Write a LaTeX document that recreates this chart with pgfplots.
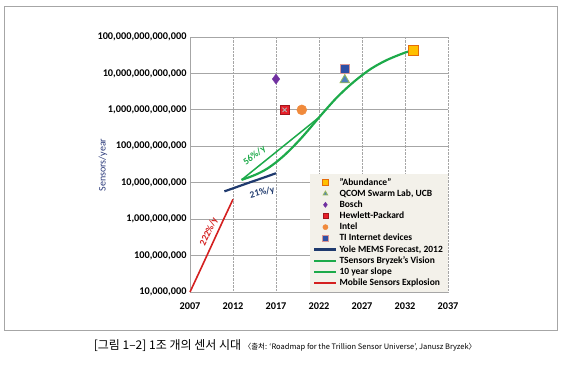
\documentclass[border=0pt]{standalone}
\usepackage{pgfplots}
\pgfplotsset{compat=1.18}
\usepackage{fontspec}
\setmainfont{Carlito}
\newfontfamily\kr{Noto Sans CJK KR}
\definecolor{abundF}{HTML}{FFC000}
\definecolor{abundD}{HTML}{E46C0A}
\definecolor{qcomF}{HTML}{4F81BD}
\definecolor{qcomD}{HTML}{9BBB59}
\definecolor{boschC}{HTML}{7030A0}
\definecolor{hpF}{HTML}{E8202A}
\definecolor{intelC}{HTML}{F08A3C}
\definecolor{tiF}{HTML}{2E4FA5}
\definecolor{tiD}{HTML}{D99694}
\definecolor{yoleC}{HTML}{1F3A6E}
\definecolor{greenC}{HTML}{1DAA4A}
\definecolor{redC}{HTML}{D42020}
\definecolor{legbg}{HTML}{F3F1EA}
\definecolor{gridC}{HTML}{A6A6A6}
\definecolor{labC}{HTML}{2B3A7A}
\begin{document}
\begin{tikzpicture}
\path[use as bounding box] (-190pt,-73pt) rectangle (379pt,292pt);
\begin{axis}[
  scale only axis, width=258pt, height=255pt,
  at={(0,0)}, anchor=south west,
  xmin=2007, xmax=2037, ymode=log, ymin=1e7, ymax=1e14,
  xtick={2007,2012,2017,2022,2027,2032,2037},
  xticklabels={2007,2012,2017,2022,2027,2032,2037},
  ytick={1e7,1e8,1e9,1e10,1e11,1e12,1e13,1e14},
  yticklabels={{10,000,000},{100,000,000},{1,000,000,000},{10,000,000,000},{100,000,000,000},{1,000,000,000,000},{10,000,000,000,000},{100,000,000,000,000}},
  ticklabel style={font=\fontsize{10.3}{12}\selectfont\bfseries},
  xticklabel style={yshift=-7pt},
  major tick length=0pt, minor tick num=0,
  yminorticks=false,
  xmajorgrids, ymajorgrids,
  x grid style={gridC, densely dotted, line width=0.6pt},
  y grid style={gridC, line width=0.8pt},
  axis x line*=bottom, axis y line*=left,
  axis line style={gridC, line width=1pt},
  legend style={at={(1,0)}, anchor=south east, draw=none, fill=legbg,
    font=\fontsize{9.5}{11}\selectfont\bfseries, cells={anchor=west},
    row sep=-1pt, inner xsep=3pt, inner ysep=2.5pt},
  legend cell align=left,
  lineleg/.style={legend image code/.code={\draw[##1] (0pt,0pt) -- (22pt,0pt);}},
  markleg/.style={legend image code/.code={\draw[##1,mark size=2.6pt] plot coordinates {(11pt,0pt)};}},
  clip=false,
]
\addplot[only marks, mark=square*, mark size=5pt, mark options={fill=abundF, draw=abundD, line width=0.8pt}, markleg] coordinates {(2033,4.4e13)};
\addlegendentry{"Abundance"}
\addplot[only marks, mark=triangle*, mark size=5.5pt, mark options={fill=qcomF, draw=qcomD, line width=0.8pt}, markleg] coordinates {(2025,6.6e12)};
\addlegendentry{QCOM Swarm Lab, UCB}
\addplot[only marks, mark=diamond*, mark size=5pt, mark options={fill=boschC, draw=boschC}, markleg] coordinates {(2017,7e12)};
\addlegendentry{Bosch}
\addplot[only marks, mark=square*, mark size=4.5pt, mark options={fill=hpF, draw=hpF!70!black, line width=0.6pt}, markleg] coordinates {(2018,1e12)};
\addlegendentry{Hewlett-Packard}
\addplot[only marks, mark=*, mark size=5pt, mark options={fill=intelC, draw=intelC}, markleg] coordinates {(2020,1e12)};
\addlegendentry{Intel}
\addplot[only marks, mark=square*, mark size=4.5pt, mark options={fill=tiF, draw=tiD, line width=0.8pt}, markleg] coordinates {(2025,1.3e13)};
\addlegendentry{TI Internet devices}
\addplot[yoleC, line width=2.2pt, lineleg] coordinates {(2011,5.8e9) (2012,7.0e9) (2013,8.5e9) (2014,1.03e10) (2015,1.24e10) (2016,1.5e10) (2017,1.82e10)};
\addlegendentry{Yole MEMS Forecast, 2012}
\addplot[greenC, line width=2.2pt, smooth, lineleg] coordinates {(2013,1.20e10) (2014,1.45e10) (2015,1.82e10) (2016,2.45e10) (2017,3.63e10) (2018,5.75e10) (2019,9.77e10) (2020,1.74e11) (2021,3.24e11) (2022,6.17e11) (2023,1.15e12) (2024,2.09e12) (2025,3.55e12) (2026,5.75e12) (2027,8.91e12) (2028,1.32e13) (2029,1.82e13) (2030,2.40e13) (2031,3.02e13) (2032,3.72e13) (2033,4.37e13)};
\addlegendentry{TSensors Bryzek's Vision}
\addplot[draw=greenC, color=greenC, line width=1.5pt, lineleg] coordinates {(2013,1.2e10) (2022,6.2e11)};
\addlegendentry{10 year slope}
\addplot[redC, line width=1.6pt, lineleg] coordinates {(2007,1.0e7) (2008,3.2e7) (2009,1.04e8) (2010,3.4e8) (2011,1.1e9) (2012,3.5e9)};
\addlegendentry{Mobile Sensors Explosion}
\addplot[only marks, mark=x, mark size=3pt, mark options={draw=gray!60, line width=0.8pt}, forget plot] coordinates {(2018,1e12)};
\addplot[only marks, mark=square*, mark size=5pt, mark options={fill=abundF, draw=abundD, line width=0.8pt}, forget plot] coordinates {(2033,4.4e13)};
\node[redC, rotate=65, font=\fontsize{9.5}{11}\selectfont\bfseries] at (axis cs:2009.2,4.6e8) {222\%/y};
\node[yoleC, rotate=14, font=\fontsize{9.5}{11}\selectfont\bfseries] at (axis cs:2015.4,5.4e9) {21\%/y};
\node[greenC, rotate=37, font=\fontsize{9.5}{11}\selectfont\bfseries] at (axis cs:2014.5,5.6e10) {56\%/y};
\end{axis}
\draw[gridC, line width=1pt] (-185pt,-38pt) rectangle (367pt,286pt);
\node[labC, rotate=90, font=\fontsize{10}{12}\selectfont] at (-87pt,127pt) {Sensors/year};
\node[anchor=base] at (95pt,-57pt) {\kr\fontsize{12}{14}\selectfont [그림 1–2] 1조 개의 센서 시대 \fontsize{7.5}{9}\selectfont〈출처: ‘Roadmap for the Trillion Sensor Universe’, Janusz Bryzek〉};
\end{tikzpicture}
\end{document}
